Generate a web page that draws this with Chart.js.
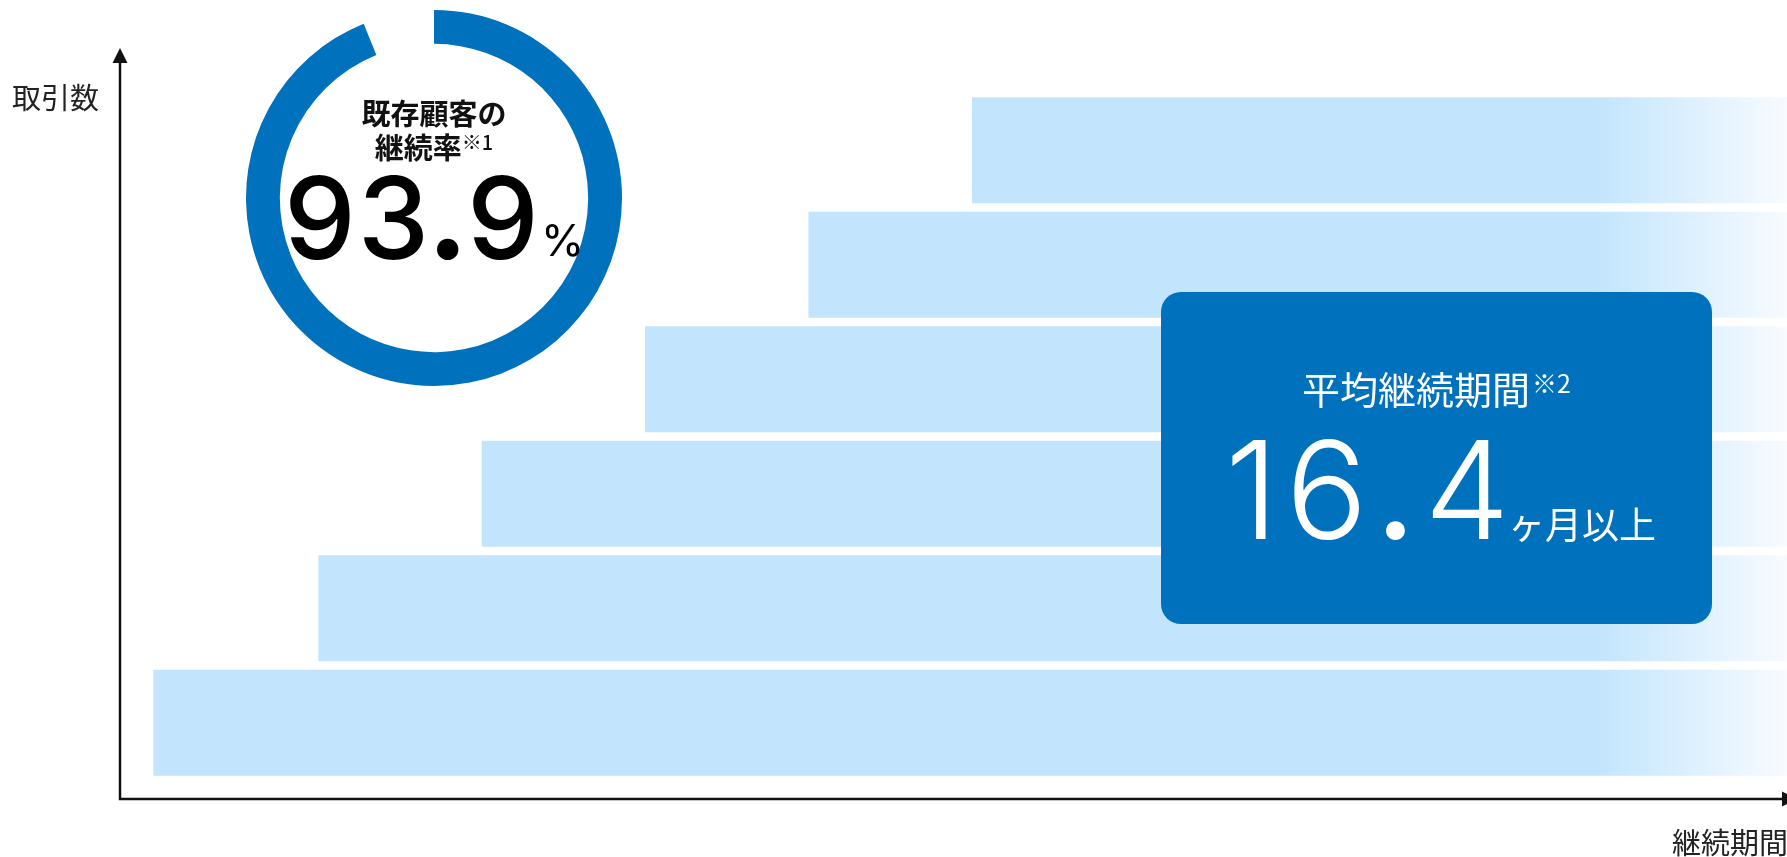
<!DOCTYPE html>
<html lang="ja">
<head>
<meta charset="utf-8">
<title>継続期間と取引数</title>
<script src="https://cdn.jsdelivr.net/npm/chart.js@4"></script>
<style>
  html, body { margin: 0; padding: 0; background: #fff; }
  #wrap { position: relative; width: 1787px; height: 857px; overflow: hidden; font-family: "Noto Sans CJK JP", "Noto Sans", sans-serif; color: #111; }
  #barChart { position: absolute; left: 0; top: 0; }
  #ringBox { position: absolute; left: 246px; top: 10px; width: 376px; height: 376px; }
  .lbl { position: absolute; line-height: 1; white-space: nowrap; }
  #yTitle { left: 12px; top: 82px; font-size: 29px; color: #222; }
  #xTitle { left: 1672px; top: 827px; font-size: 29px; color: #222; }
  #ringText { position: absolute; left: 234px; width: 400px; top: 95px; text-align: center; font-weight: 700; font-size: 29px; line-height: 34px; color: #111; }
  #ringText sup { font-size: 20px; font-weight: 500; vertical-align: 0; position: relative; top: -9px; margin-left: 0; }
  #rate { position: absolute; left: 234px; width: 400px; top: 161px; text-align: center; line-height: 1; white-space: nowrap; color: #000; font-family: Inter, "Noto Sans", sans-serif; }
  #rate .num { font-size: 114px; font-weight: 500; letter-spacing: 2px; }
  #rate .dot { font-size: 1.3em; line-height: 0; letter-spacing: 0; margin: 0 -3px 0 -6px; }
  #rate .unit { font-size: 44px; font-weight: 400; line-height: 0; position: relative; top: -3px; }
  #box { position: absolute; left: 1161px; top: 292px; width: 551px; height: 332px; border-radius: 20px; background: #0071bc; color: #fff; }
  #box .head { position: absolute; left: 0; width: 100%; top: 77px; text-align: center; font-size: 38px; line-height: 1; font-weight: 400; white-space: nowrap; }
  #box .head sup { font-size: 25px; vertical-align: 0; position: relative; top: -11px; margin-left: 2px; }
  #box .val { position: absolute; left: 4px; width: 100%; top: 130px; text-align: center; line-height: 1; white-space: nowrap; }
  #box .num { font-family: Inter, "Noto Sans", sans-serif; font-size: 136px; font-weight: 300; letter-spacing: 7px; }
  #box .dot { font-size: 1.3em; line-height: 0; letter-spacing: 0; margin: 0 4px 0 -4px; }
  #box .unit { font-size: 37px; font-weight: 400; line-height: 0; margin-left: -9px; }
</style>
</head>
<body>
<div id="wrap">
  <canvas id="barChart" width="1787" height="857"></canvas>
  <div id="ringBox"><canvas id="ringChart" width="376" height="376"></canvas></div>
  <div class="lbl" id="yTitle">取引数</div>
  <div class="lbl" id="xTitle">継続期間</div>
  <div id="ringText">既存顧客の<br>継続率<sup>※1</sup></div>
  <div id="rate"><span class="num">93<span class="dot">.</span>9</span><span class="unit">%</span></div>
  <div id="box">
    <div class="head">平均継続期間<sup>※2</sup></div>
    <div class="val"><span class="num">16<span class="dot">.</span>4</span><span class="unit">ヶ月以上</span></div>
  </div>
</div>

<script>
// Rows of customers, top to bottom (newest cohort first)
const cohorts = ['1', '2', '3', '4', '5', '6'];
// Where each bar starts / ends along the 継続期間 axis (0-100)
const barStart = [51.1, 41.3, 31.5, 21.7, 11.9, 2.0];
const barEnd = [100, 100, 100, 100, 100, 100];

// Donut: retention rate
const retention = [93.9, 6.1];

const BLUE = '#0071bc';
const BAR_BLUE = '#c2e5fd';

// Arrowed axes drawn around the chart area
const arrowAxes = {
  id: 'arrowAxes',
  afterDraw(chart) {
    const { ctx, chartArea: ca } = chart;
    const yAxisX = ca.left;
    const xAxisY = ca.bottom + 19;
    const topY = ca.top - 45;
    ctx.save();
    ctx.strokeStyle = '#111';
    ctx.fillStyle = '#111';
    ctx.lineWidth = 2.5;
    ctx.beginPath();
    ctx.moveTo(yAxisX, topY + 12);
    ctx.lineTo(yAxisX, xAxisY);
    ctx.lineTo(ca.right - 2, xAxisY);
    ctx.stroke();
    // up arrow
    ctx.beginPath();
    ctx.moveTo(yAxisX, topY);
    ctx.lineTo(yAxisX - 7.5, topY + 15);
    ctx.lineTo(yAxisX + 7.5, topY + 15);
    ctx.closePath();
    ctx.fill();
    // right arrow
    ctx.beginPath();
    ctx.moveTo(ca.right + 10, xAxisY);
    ctx.lineTo(ca.right - 5, xAxisY - 7.5);
    ctx.lineTo(ca.right - 5, xAxisY + 7.5);
    ctx.closePath();
    ctx.fill();
    ctx.restore();
  }
};

const barCtx = document.getElementById('barChart').getContext('2d');
const barChart = new Chart(barCtx, {
  type: 'bar',
  data: {
    labels: cohorts,
    datasets: [{
      label: '取引数',
      data: barStart.map((s, i) => [s, barEnd[i]]),
      backgroundColor: (c) => {
        const ca = c.chart.chartArea;
        if (!ca) return BAR_BLUE;
        const g = c.chart.ctx.createLinearGradient(ca.right - 190, 0, ca.right, 0);
        g.addColorStop(0, BAR_BLUE);
        g.addColorStop(1, '#f8fbff');
        return g;
      },
      borderWidth: 0,
      borderSkipped: false,
      barPercentage: 0.925,
      categoryPercentage: 1
    }]
  },
  options: {
    indexAxis: 'y',
    responsive: false,
    animation: false,
    layout: { padding: { left: 120, right: 0, top: 93, bottom: 77 } },
    plugins: { legend: { display: false }, tooltip: { enabled: false } },
    scales: {
      x: { display: false, min: 0, max: 100 },
      y: { display: false, offset: true }
    }
  },
  plugins: [arrowAxes]
});

const ringCtx = document.getElementById('ringChart').getContext('2d');
const ringChart = new Chart(ringCtx, {
  type: 'doughnut',
  data: {
    labels: ['継続', 'その他'],
    datasets: [{
      data: retention,
      backgroundColor: [BLUE, 'rgba(0,0,0,0)'],
      borderWidth: 0
    }]
  },
  options: {
    responsive: false,
    animation: false,
    cutout: '82%',
    plugins: { legend: { display: false }, tooltip: { enabled: false } }
  }
});
</script>
</body>
</html>
